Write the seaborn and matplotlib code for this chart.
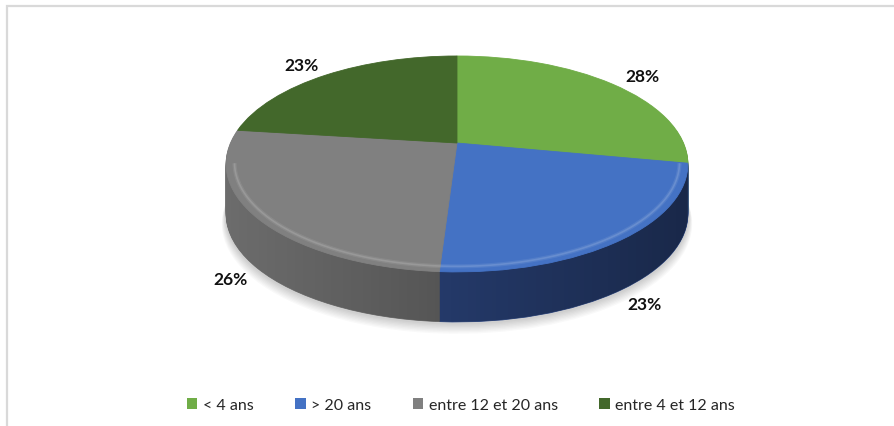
import numpy as np
import matplotlib
matplotlib.use("Agg")
import matplotlib.pyplot as plt
import seaborn as sns
from matplotlib.transforms import Transform
from matplotlib.patches import Patch, Rectangle, PathPatch
from matplotlib.path import Path

# ---------------- data ----------------
categories = ["< 4 ans", "> 20 ans", "entre 12 et 20 ans", "entre 4 et 12 ans"]
values = [28, 23, 26, 23]
pct_labels = ["28%", "23%", "26%", "23%"]
top_colors = ["#70AD47", "#4472C4", "#808080", "#43682B"]
side_colors = ["#5a8c3a", "#2e4985", "#6c6c6c", "#35521f"]

sns.set_theme(style="white")
plt.rcParams['font.family'] = ['Lato', 'DejaVu Sans']

W, H = 894, 427
fig = plt.figure(figsize=(W / 100, H / 100), dpi=100)
ax = fig.add_axes([0, 0, 1, 1])

# perspective view of the pie disc (pixel space)
CX, CY, SX, SY, K, DEPTH = 457, 144, 226.5, 103.9, 0.194, 50


class Persp(Transform):
    input_dims = 2
    output_dims = 2
    is_separable = False
    has_inverse = False

    def __init__(self, dy=0.0, scale=1.0):
        super().__init__()
        self.dy = dy
        self.scale = scale

    def transform_non_affine(self, values):
        v = np.asarray(values, dtype=float).reshape(-1, 2)
        x = v[:, 0] * self.scale
        y = v[:, 1] * self.scale
        w = 1 + K * y
        return np.column_stack([CX + SX * x / w, CY - SY * y / w + self.dy])


def draw_pie(colors, dy=0.0, scale=1.0, alpha=1.0, z=1, lw=0.6):
    wedges, _ = ax.pie(values, colors=colors, startangle=90, counterclock=False,
                       frame=True, wedgeprops=dict(linewidth=lw, alpha=alpha))
    for w in wedges:
        w.set_edgecolor(w.get_facecolor())
        w.set_transform(Persp(dy, scale) + ax.transData)
        w.set_zorder(z)
    return wedges


# soft shadow
for d in range(2, 10):
    draw_pie(['#000000'], dy=DEPTH + d, scale=1.0 + d * 0.002, alpha=0.025, z=1, lw=0)

# side walls (stacked layers)
for d in np.arange(DEPTH, 0, -1.0):
    draw_pie(side_colors, dy=d, z=2)

# horizontal shading on the wall
th_r = -np.arcsin(K)
th_l = -np.pi + np.arcsin(K)
th = np.linspace(th_l, th_r, 300)
unit = np.column_stack([np.cos(th), np.sin(th)])
top_arc = Persp(0).transform_non_affine(unit)
bot_arc = Persp(DEPTH).transform_non_affine(unit)[::-1]
band = np.vstack([top_arc, bot_arc, top_arc[:1]])
band_patch = PathPatch(Path(band), transform=ax.transData, facecolor='none', edgecolor='none')
grad = np.zeros((1, 256, 4))
grad[0, :, 3] = np.linspace(0.0, 0.45, 256)
img = ax.imshow(grad, extent=(band[:, 0].min(), band[:, 0].max(), band[:, 1].max(), band[:, 1].min()),
                aspect='auto', interpolation='bilinear', zorder=3)
img.set_clip_path(band_patch)

# top face
top_wedges = draw_pie(top_colors, dy=0, z=4)

# soft bevel highlight near the front edge
for rr, a, lw in [(0.965, 0.08, 3.0), (0.965, 0.13, 1.2)]:
    hl = Persp(0).transform_non_affine(np.column_stack([rr * np.cos(th), rr * np.sin(th)]))
    ax.plot(hl[:, 0], hl[:, 1], color='white', alpha=a, lw=lw, zorder=5,
            solid_capstyle='butt')

# percentage labels
for w, lab in zip(top_wedges, pct_labels):
    mid = np.deg2rad((w.theta1 + w.theta2) / 2)
    front = np.sin(mid) < 0
    r = 1.12 if front else 1.22
    pt = Persp(DEPTH if front else 0).transform_non_affine([[r * np.cos(mid), r * np.sin(mid)]])[0]
    ax.text(pt[0], pt[1] + (0 if front else 3), lab, ha='center', va='center', fontsize=12.5,
            fontweight='bold', color='#111111', zorder=6)

ax.set_aspect('auto')
ax.set_xlim(0, W)
ax.set_ylim(H, 0)
ax.axis('off')

# legend
handles = [Patch(facecolor=c, edgecolor='none') for c in top_colors]
ax.legend(handles, categories, loc='center', bbox_to_anchor=(461 / W, 21 / H), ncol=4,
          frameon=False, fontsize=11.5, handlelength=0.65, handleheight=0.65,
          handletextpad=0.35, columnspacing=2.6, labelcolor='#262626')

# chart border (only top/left visible)
fig.add_artist(Rectangle((7 / W, -0.1), 1.2, (H - 6.5) / H + 0.1, transform=fig.transFigure,
                         fill=False, edgecolor='#d9d9d9', lw=1.6))

fig.savefig('out.png', dpi=100)
